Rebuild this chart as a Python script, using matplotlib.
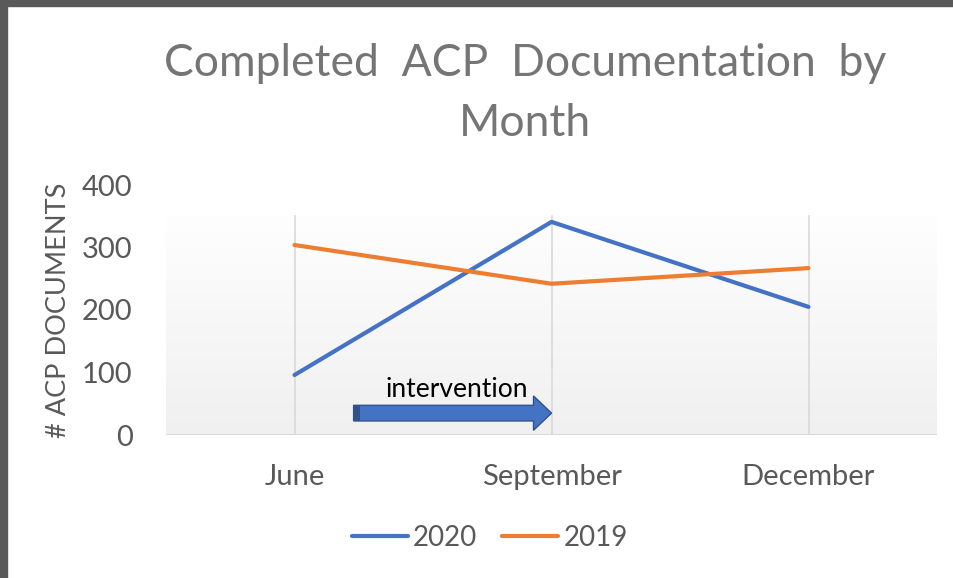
import numpy as np
import matplotlib.pyplot as plt
from matplotlib.patches import FancyArrow, Rectangle

# chart data
months = ["June", "September", "December"]
docs_2020 = [96, 341, 205]
docs_2019 = [304, 242, 267]
y_ticks = [0, 100, 200, 300, 400]

plt.rcParams["font.family"] = ["Lato", "DejaVu Sans"]

fig = plt.figure(figsize=(9.54, 5.78), dpi=100)
fig.patch.set_facecolor("white")

# dark frame on the top and left edge
fig.patches.append(Rectangle((0, 0), 7 / 954, 1, transform=fig.transFigure,
                             color="#595959", zorder=10))
fig.patches.append(Rectangle((0, 1 - 6 / 578), 1, 6 / 578, transform=fig.transFigure,
                             color="#595959", zorder=10))

# axes: x from 166 to 937 px, y 0 at 435 px, 400 at 185 px
ax = fig.add_axes([166 / 954, (578 - 435) / 578, 771 / 954, 250 / 578])
ax.set_xlim(-0.5, 2.5)
ax.set_ylim(0, 400)
ax.set_facecolor("none")

# gradient plot fill (only from ~350 down)
grad = np.linspace(0, 1, 256).reshape(-1, 1)
ax.imshow(grad, extent=(-0.5, 2.5, 0, 350), aspect="auto", origin="lower",
          cmap=plt.matplotlib.colors.LinearSegmentedColormap.from_list(
              "g", ["#f0f0f0", "#fefefe"]), zorder=0)

x = np.arange(len(months))
for xi in x:
    ax.axvline(xi, ymin=0, ymax=350 / 400, color="#d9d9d9", lw=1.2, zorder=1)
ax.axhline(0, color="#d9d9d9", lw=1.5, zorder=1)

ax.plot(x, docs_2020, color="#4472C4", lw=3, solid_capstyle="round", label="2020", zorder=3)
ax.plot(x, docs_2019, color="#ED7D31", lw=3, solid_capstyle="round", label="2019", zorder=3)

# intervention arrow
ax.add_patch(FancyArrow(0.23, 35, 0.77, 0, width=25, head_width=55, head_length=0.07,
                        length_includes_head=True, facecolor="#4472C4",
                        edgecolor="#2F528F", lw=1, zorder=4))
ax.add_patch(Rectangle((0.23, 22.5), 0.025, 25, facecolor="#2F528F", edgecolor="none", zorder=5))
ax.text(0.63, 73, "intervention", ha="center", va="center", fontsize=19,
        color="black", zorder=5)

for s in ax.spines.values():
    s.set_visible(False)
ax.set_xticks(x)
ax.set_xticklabels(months)
ax.set_yticks(y_ticks)
ax.tick_params(length=0, labelsize=21, colors="#595959")
ax.tick_params(axis="x", pad=21)
ax.tick_params(axis="y", pad=24)
ax.set_ylabel("# ACP DOCUMENTS", fontsize=19.5, color="#595959", labelpad=8)

fig.text(525 / 954, 1 - 63 / 578, "Completed  ACP  Documentation  by",
         ha="center", va="center", fontsize=32, color="#757575")
fig.text(525 / 954, 1 - 123 / 578, "Month",
         ha="center", va="center", fontsize=32, color="#757575")

fig.legend(loc="center", bbox_to_anchor=(490 / 954, 1 - 538 / 578), ncol=2,
           frameon=False, fontsize=20, handlelength=2.0, handletextpad=0.2,
           columnspacing=0.9, labelcolor="#595959")

fig.savefig("out.png", dpi=100)
